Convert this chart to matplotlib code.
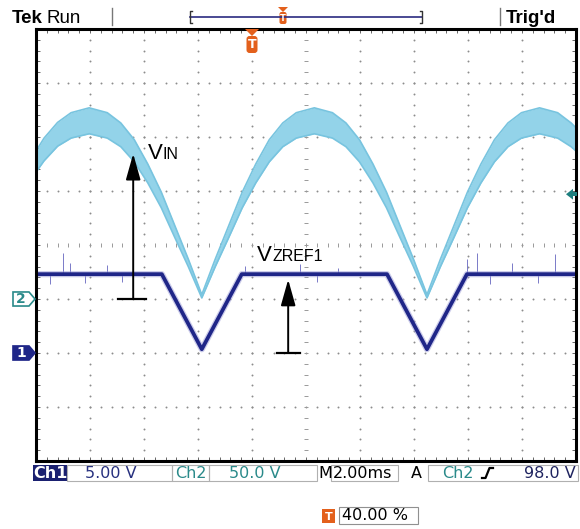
import numpy as np
import matplotlib.pyplot as plt
from matplotlib.patches import Polygon, Rectangle, FancyBboxPatch
from matplotlib.transforms import blended_transform_factory

# screen units: 10 x 8 divisions, y = 0 at the centre line
# ch2 (VIN) trace is a fuzzy band -> upper / lower edge
vin_x = [0.0, 0.15, 0.40, 0.65, 0.985, 1.32, 1.57, 1.82, 2.07, 2.32, 2.57, 2.82, 3.07,
         3.32, 3.57, 3.82, 4.07, 4.32, 4.57, 4.82, 5.155, 5.49, 5.74, 5.99, 6.24, 6.49, 6.74, 6.99, 7.24,
         7.49, 7.74, 7.99, 8.24, 8.49, 8.74, 8.99, 9.325, 9.66, 9.91, 10.0]
vin_top = [1.74, 1.98, 2.27, 2.45, 2.54, 2.45, 2.26, 1.95, 1.50, 0.98, 0.36, -0.26, -0.92,
           -0.26, 0.36, 0.98, 1.50, 1.95, 2.26, 2.45, 2.54, 2.45, 2.26, 1.95, 1.50, 0.98, 0.36, -0.26, -0.92,
           -0.26, 0.36, 0.98, 1.50, 1.95, 2.26, 2.45, 2.54, 2.45, 2.26, 2.17]
vin_bot = [1.35, 1.56, 1.83, 1.98, 2.06, 1.98, 1.82, 1.54, 1.15, 0.69, 0.14, -0.40, -0.98,
           -0.40, 0.14, 0.69, 1.15, 1.54, 1.82, 1.98, 2.06, 1.98, 1.82, 1.54, 1.15, 0.69, 0.14, -0.40, -0.98,
           -0.40, 0.14, 0.69, 1.15, 1.54, 1.82, 1.98, 2.06, 1.98, 1.82, 1.74]

# ch1 (VZREF1) trace
ch1_x = [0.0, 2.33, 3.07, 3.81, 6.50, 7.24, 7.98, 10.0]
ch1_y = [-0.54, -0.54, -1.93, -0.54, -0.54, -1.93, -0.54, -0.54]

# noise spikes on ch1
spike_x = [0.50, 0.63, 1.31, 3.87, 4.89, 5.60, 7.98, 8.17, 8.81, 9.61]
spike_top = [-0.15, -0.33, -0.37, -0.39, -0.35, -0.42, -0.26, -0.15, -0.33, -0.17]
dip_x = [0.25, 0.90, 1.60, 5.20, 8.40, 9.30]
dip_bot = [-0.72, -0.70, -0.68, -0.69, -0.72, -0.70]

ch1_gnd = -2.0
ch2_gnd = -1.0
trig_lvl = 0.94

navy = '#1f2688'
lblue = '#93d3e9'
teal = '#2a8a8a'
orange = '#e3601c'

fig = plt.figure(figsize=(5.8, 5.29), dpi=100)
ax = fig.add_axes([36/580, 1-461/529, 540/580, 432/529])
ax.set_xlim(0, 10)
ax.set_ylim(-4, 4)
ax.set_xticks([])
ax.set_yticks([])
for s in ax.spines.values():
    s.set_linewidth(2.2)
    s.set_zorder(6)

# graticule dots
fine = np.arange(0, 10.01, 0.2)
finey = np.arange(-4, 4.01, 0.2)
for gx in range(1, 10):
    if gx == 5:
        continue
    ax.plot(np.full(finey.size, gx), finey, ls='none', marker='o', ms=1.4, mew=0, color='#8c8c8c')
for gy in range(-3, 4):
    if gy == 0:
        continue
    ax.plot(fine, np.full(fine.size, gy), ls='none', marker='o', ms=1.4, mew=0, color='#8c8c8c')
# centre lines with small ticks
ax.hlines(finey, 5-0.04, 5+0.04, color='#999999', lw=0.7)
ax.vlines(fine, -0.04, 0.04, color='#999999', lw=0.7)
# border ticks
ax.vlines(fine, 4-0.075, 4, color='#666666', lw=0.7)
ax.vlines(fine, -4, -4+0.075, color='#666666', lw=0.7)
ax.hlines(finey, 0, 0.075, color='#666666', lw=0.7)
ax.hlines(finey, 10-0.075, 10, color='#666666', lw=0.7)

# ch2 band
ax.fill_between(vin_x, vin_bot, vin_top, color=lblue, lw=0, zorder=3)
ax.plot(vin_x, vin_top, color='#78c4df', lw=1.2, zorder=3)
ax.plot(vin_x, vin_bot, color='#78c4df', lw=1.2, zorder=3)

# ch1 trace
ax.vlines(spike_x, -0.54, spike_top, color='#7a7ac8', lw=0.7, zorder=3)
ax.vlines(dip_x, dip_bot, -0.54, color='#7a7ac8', lw=0.7, zorder=3)
ax.plot(ch1_x, ch1_y, color='#9a9ad6', lw=4.5, alpha=0.5, zorder=3)
ax.plot(ch1_x, ch1_y, color=navy, lw=2.7, zorder=4)

# annotations
arrow = dict(arrowstyle='-|>,head_length=1.6,head_width=0.45', color='black',
             lw=1.4, mutation_scale=10, shrinkA=0, shrinkB=0)
ax.annotate('', xy=(1.80, 1.69), xytext=(1.80, ch2_gnd), arrowprops=arrow, zorder=5)
ax.plot([1.52, 2.04], [ch2_gnd, ch2_gnd], color='black', lw=1.6, zorder=5)
ax.annotate('', xy=(4.67, -0.64), xytext=(4.67, ch1_gnd), arrowprops=arrow, zorder=5)
ax.plot([4.46, 4.89], [ch1_gnd, ch1_gnd], color='black', lw=1.6, zorder=5)
lab = dict(family='Liberation Sans', color='black', va='baseline', zorder=5)
ax.text(2.07, 1.59, 'V', fontsize=16, **lab)
ax.text(2.35, 1.59, 'IN', fontsize=11.5, **lab)
ax.text(4.09, -0.30, 'V', fontsize=16, **lab)
ax.text(4.38, -0.30, 'ZREF1', fontsize=11.5, **lab)

# overlay in pixel coordinates for the scope frame
ov = fig.add_axes([0, 0, 1, 1], zorder=5)
ov.set_xlim(0, 580)
ov.set_ylim(529, 0)
ov.axis('off')
ov.patch.set_alpha(0)
tr = blended_transform_factory(ov.transData, ax.transData)

# channel ground markers
h = 0.13
ov.add_patch(Polygon([(13, ch2_gnd+h), (29, ch2_gnd+h), (35, ch2_gnd), (29, ch2_gnd-h), (13, ch2_gnd-h)],
                     closed=True, fc='white', ec=teal, lw=1.2, transform=tr))
ov.text(21, ch2_gnd, '2', color=teal, fontsize=10, fontweight='bold', ha='center', va='center',
        family='DejaVu Sans', transform=tr)
ov.add_patch(Polygon([(13, ch1_gnd+h), (29, ch1_gnd+h), (35, ch1_gnd), (29, ch1_gnd-h), (13, ch1_gnd-h)],
                     closed=True, fc=navy, ec=navy, lw=1.2, transform=tr))
ov.text(21, ch1_gnd, '1', color='white', fontsize=10, fontweight='bold', ha='center', va='center',
        family='DejaVu Sans', transform=tr)
# trigger level marker
ov.add_patch(Polygon([(566, trig_lvl), (573, trig_lvl+0.1), (573, trig_lvl-0.1)], closed=True,
                     fc='#1d7f7f', ec='none', transform=tr))
ov.add_patch(Rectangle((572, trig_lvl-0.035), 5, 0.07, fc='#1d7f7f', ec='none', transform=tr))

# top status line
top = dict(family='Liberation Sans', color='black', va='baseline')
ov.text(12, 23, 'Tek', fontsize=13.5, fontweight='bold', **top)
ov.text(47, 23, 'Run', fontsize=13.5, **top)
ov.plot([112, 112], [8, 25], color='#777777', lw=1)
ov.plot([500, 500], [8, 25], color='#777777', lw=1)
ov.text(506, 23, "Trig'd", fontsize=13.5, fontweight='bold', **top)
ov.plot([190, 422], [17, 17], color='#2b2b80', lw=1.2)
ov.plot([192, 190, 190, 192], [11, 11, 23, 23], color='#333333', lw=1)
ov.plot([420, 422, 422, 420], [11, 11, 23, 23], color='#333333', lw=1)
# trigger position markers
ov.add_patch(Polygon([(278, 7), (288, 7), (283, 12)], closed=True, fc=orange, ec='none'))
ov.add_patch(FancyBboxPatch((279.5, 12), 7, 12, boxstyle='round,pad=0,rounding_size=2', fc=orange, ec='none'))
ov.text(283, 18.5, 'T', color='white', fontsize=6, fontweight='bold', ha='center', va='center')
ov.add_patch(Polygon([(245, 29), (259, 29), (252, 36)], closed=True, fc=orange, ec='none'))
ov.add_patch(FancyBboxPatch((246.5, 36), 11, 17, boxstyle='round,pad=0,rounding_size=3', fc=orange, ec='none'))
ov.text(252, 44.5, 'T', color='white', fontsize=9, fontweight='bold', ha='center', va='center')

# bottom status line
y0, y1 = 465, 481
ym = (y0 + y1) / 2
bt = dict(family='DejaVu Sans', fontsize=11.5, va='center')
ov.add_patch(Rectangle((33, y0), 34, y1-y0, fc='#1a2070', ec='none'))
ov.text(50, ym, 'Ch1', color='white', fontweight='bold', ha='center', **bt)
for bx0, bx1 in [(67, 172), (172, 209), (209, 317), (331, 398), (428, 578)]:
    ov.add_patch(Rectangle((bx0, y0), bx1-bx0, y1-y0, fc='none', ec='#b0b0b0', lw=0.8))
ov.text(85, ym, '5.00 V', color='#27307f', **bt)
ov.text(175, ym, 'Ch2', color=teal, **bt)
ov.text(229, ym, '50.0 V', color=teal, **bt)
ov.text(318, ym, 'M', color='black', **bt)
ov.text(333, ym, '2.00ms', color='black', **bt)
ov.text(411, ym, 'A', color='black', **bt)
ov.text(442, ym, 'Ch2', color=teal, **bt)
ov.plot([482, 485.5, 489.5, 493], [478, 478, 468, 468], color='black', lw=1.6)
ov.text(576, ym, '98.0 V', color='#1f2460', ha='right', **bt)

ov.add_patch(Rectangle((322, 509), 13, 14, fc=orange, ec='none'))
ov.text(328.5, 516.5, 'T', color='white', fontsize=8, fontweight='bold', ha='center', va='center')
ov.add_patch(Rectangle((339, 507), 79, 17, fc='none', ec='#909090', lw=0.8))
ov.text(342, 516, '40.00 %', color='black', **bt)

fig.savefig('out.png', dpi=100)
